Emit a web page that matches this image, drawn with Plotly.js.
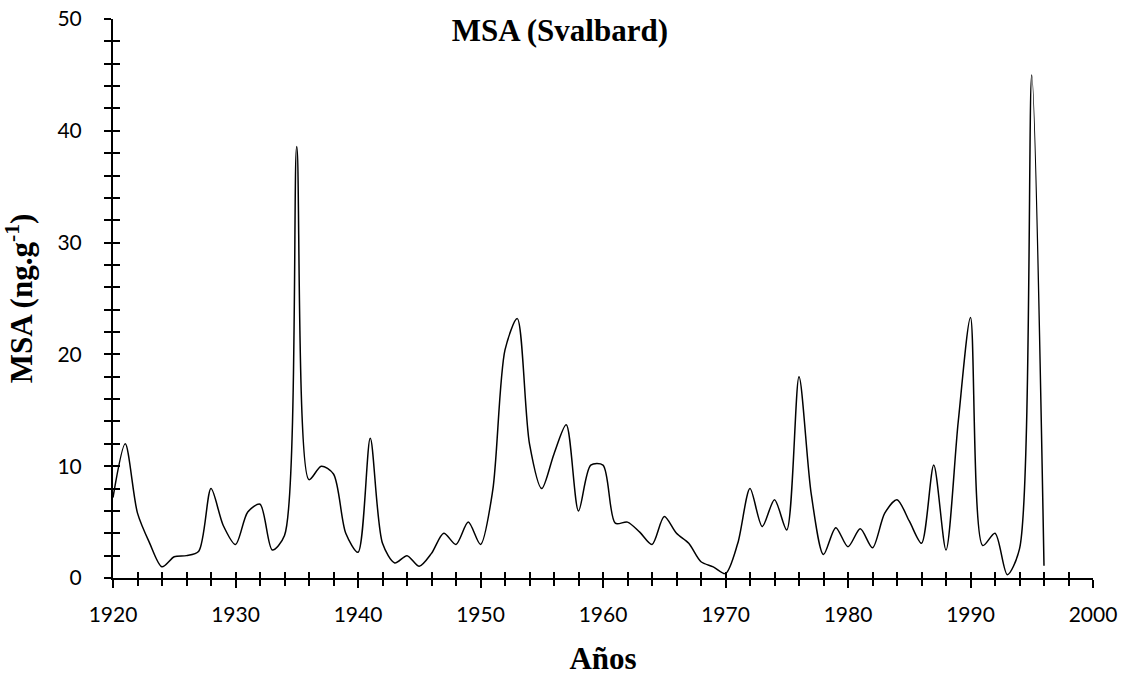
<!DOCTYPE html>
<html>
<head>
<meta charset="utf-8">
<script src="https://cdn.plot.ly/plotly-3.0.1.min.js"></script>
<style>html,body{margin:0;padding:0;background:#fff;}#chart{width:1128px;height:692px;}</style>
</head>
<body>
<div id="chart"></div>
<script>
const years = [1920,1921,1922,1923,1924,1925,1926,1927,1928,1929,
               1930,1931,1932,1933,1934,1935,1936,1937,1938,1939,
               1940,1941,1942,1943,1944,1945,1946,1947,1948,1949,
               1950,1951,1952,1953,1954,1955,1956,1957,1958,1959,
               1960,1961,1962,1963,1964,1965,1966,1967,1968,1969,
               1970,1971,1972,1973,1974,1975,1976,1977,1978,1979,
               1980,1981,1982,1983,1984,1985,1986,1987,1988,1989,
               1990,1991,1992,1993,1994,1995,1996];
const msa = [7.2,12.0,5.8,3.1,1.0,1.9,2.0,2.4,8.0,4.7,
             3.0,5.9,6.6,2.5,3.8,38.6,8.8,10.0,9.3,4.0,
             2.3,12.5,3.1,1.35,2.0,1.05,2.2,4.0,3.0,5.0,
             3.0,7.85,20.4,23.2,12.0,8.0,11.1,13.7,6.0,10.1,
             10.1,4.9,5.0,4.1,3.0,5.5,4.0,3.1,1.45,1.0,
             0.4,3.1,8.0,4.6,7.0,4.3,18.0,7.5,2.1,4.5,
             2.8,4.4,2.7,5.8,7.0,5.1,3.1,10.1,2.5,14.0,
             23.3,2.9,4.0,0.3,2.6,45.0,1.1];
const chartTitle = "MSA (Svalbard)";
const xTitle = "Años";
const yTitle = "MSA (ng.g<sup>-1</sup>)";
const xRange = [1920, 2000];
const yRange = [0, 50];

const serif = "Liberation Serif, Times New Roman, serif";
const sans = "Lato, Calibri, sans-serif";

const traces = [
  {x: years, y: msa, type: "scatter", mode: "lines",
   line: {color: "#000", width: 1.5, shape: "spline", smoothing: 0.8},
   hoverinfo: "skip", showlegend: false},
  {x: years, y: msa, type: "scatter", mode: "lines", xaxis: "x2", yaxis: "y2",
   line: {color: "#000", width: 1.5, shape: "spline", smoothing: 0.8},
   opacity: 0, hoverinfo: "skip", showlegend: false}
];

const baseX = {
  range: xRange, showgrid: false, zeroline: false, showline: true,
  linecolor: "#000", linewidth: 2, tick0: 1920, dtick: 10,
  tickcolor: "#000", tickwidth: 2, fixedrange: true
};
const baseY = {
  range: yRange, showgrid: false, zeroline: false, showline: true,
  linecolor: "#000", linewidth: 2, tick0: 0, dtick: 10,
  tickcolor: "#000", tickwidth: 2, fixedrange: true
};

const layout = {
  width: 1128, height: 692,
  paper_bgcolor: "#fff", plot_bgcolor: "#fff",
  margin: {l: 113, r: 35, t: 19, b: 114},
  showlegend: false,
  title: {text: "<b>" + chartTitle + "</b>", font: {family: serif, size: 31, color: "#000"},
          xref: "paper", x: 0.456, xanchor: "center", yref: "container", y: 0.957, yanchor: "middle"},
  xaxis: Object.assign({}, baseX, {
    ticks: "outside", ticklen: 8,
    minor: {dtick: 2, ticks: "outside", ticklen: 6, tickwidth: 2, tickcolor: "#000"},
    tickfont: {family: sans, size: 21, color: "#000"}, ticklabelstandoff: 9,
    title: {text: "<b>" + xTitle + "</b>", font: {family: serif, size: 31, color: "#000"}, standoff: 22}
  }),
  xaxis2: Object.assign({}, baseX, {
    overlaying: "x", anchor: "y2", ticks: "inside", ticklen: 6, showticklabels: false,
    minor: {dtick: 2, ticks: "inside", ticklen: 6, tickwidth: 2, tickcolor: "#000"}
  }),
  yaxis: Object.assign({}, baseY, {
    ticks: "outside", ticklen: 7,
    minor: {dtick: 2, ticks: "outside", ticklen: 7, tickwidth: 2, tickcolor: "#000"},
    tickfont: {family: sans, size: 21, color: "#000"}, ticklabelstandoff: 18,
    title: {text: "<b>" + yTitle + "</b>", font: {family: serif, size: 31, color: "#000"}, standoff: 18}
  }),
  yaxis2: Object.assign({}, baseY, {
    overlaying: "y", anchor: "x2", ticks: "inside", ticklen: 7, showticklabels: false,
    minor: {dtick: 2, ticks: "inside", ticklen: 7, tickwidth: 2, tickcolor: "#000"}
  })
};

Plotly.newPlot("chart", traces, layout, {displayModeBar: false, staticPlot: true});
</script>
</body>
</html>
